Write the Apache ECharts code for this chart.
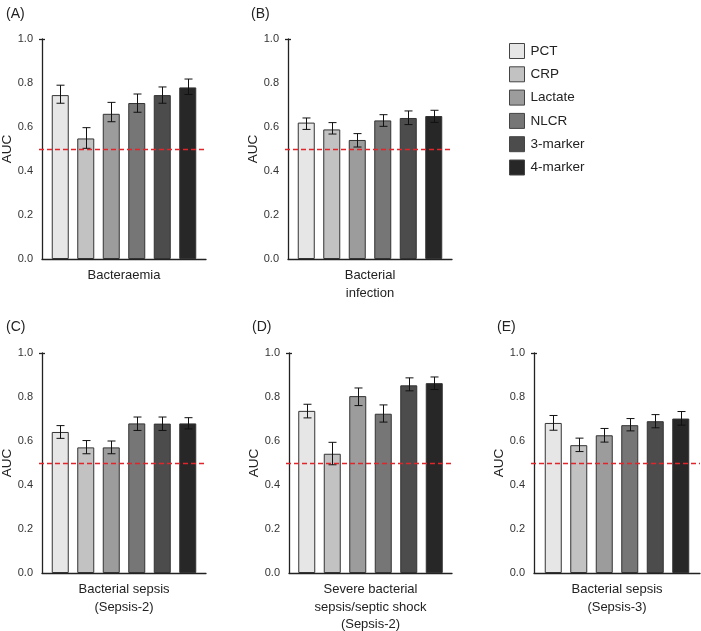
<!DOCTYPE html>
<html>
<head>
<meta charset="utf-8">
<script src="https://cdn.jsdelivr.net/npm/echarts@6/dist/echarts.min.js"></script>
<style>
html,body{margin:0;padding:0;background:#fff;}
#chart{width:701px;height:631px;}
</style>
</head>
<body>
<div id="chart"></div>
<script>
// ---------- data ----------
const markers = ['PCT', 'CRP', 'Lactate', 'NLCR', '3-marker', '4-marker'];
const panelLabels = ['(A)', '(B)', '(C)', '(D)', '(E)'];
const outcomes = [
  'Bacteraemia',
  'Bacterial\ninfection',
  'Bacterial sepsis\n(Sepsis-2)',
  'Severe bacterial\nsepsis/septic shock\n(Sepsis-2)',
  'Bacterial sepsis\n(Sepsis-3)'
];
const yTicks = [0.0, 0.2, 0.4, 0.6, 0.8, 1.0];
const refLine = 0.5;

const aucA = [0.745, 0.548, 0.660, 0.709, 0.745, 0.780];
const loA  = [0.708, 0.503, 0.624, 0.667, 0.708, 0.748];
const hiA  = [0.790, 0.597, 0.712, 0.750, 0.782, 0.818];

const aucB = [0.620, 0.589, 0.541, 0.630, 0.641, 0.650];
const loB  = [0.589, 0.568, 0.509, 0.603, 0.611, 0.621];
const hiB  = [0.641, 0.620, 0.570, 0.656, 0.673, 0.676];

const aucC = [0.641, 0.571, 0.571, 0.680, 0.679, 0.680];
const loC  = [0.612, 0.542, 0.542, 0.648, 0.648, 0.655];
const hiC  = [0.670, 0.602, 0.600, 0.709, 0.709, 0.706];

const aucD = [0.737, 0.542, 0.804, 0.724, 0.853, 0.863];
const loD  = [0.705, 0.492, 0.761, 0.686, 0.828, 0.834];
const hiD  = [0.767, 0.594, 0.841, 0.764, 0.887, 0.891];

const aucE = [0.682, 0.581, 0.626, 0.672, 0.690, 0.702];
const loE  = [0.649, 0.552, 0.595, 0.646, 0.660, 0.672];
const hiE  = [0.716, 0.613, 0.657, 0.702, 0.720, 0.734];

// ---------- styling / layout ----------
const panels = [
  {auc: aucA, lo: loA, hi: hiA},
  {auc: aucB, lo: loB, hi: hiB},
  {auc: aucC, lo: loC, hi: hiC},
  {auc: aucD, lo: loD, hi: hiD},
  {auc: aucE, lo: loE, hi: hiE}
];
const colors = ['#e6e6e6', '#c2c2c2', '#9c9c9c', '#767676', '#4c4c4c', '#272727'];
const grids = [
  {left: 42,  top: 39,  width: 164, height: 220},
  {left: 288, top: 39,  width: 164, height: 220},
  {left: 42,  top: 353, width: 164, height: 220},
  {left: 289, top: 353, width: 163, height: 220},
  {left: 534, top: 353, width: 166, height: 220}
];
const labelPos = [
  {left: 1, top: 2}, {left: 246, top: 2},
  {left: 1, top: 315}, {left: 247, top: 315}, {left: 492, top: 315}
];
const BAR_W = 17;
const GAP = 0.5;
const REF_COLOR = '#e0262b';
const FONT = '"Liberation Sans", Arial, sans-serif';

const option = {
  animation: false,
  backgroundColor: '#fff',
  textStyle: {fontFamily: FONT},
  title: panelLabels.map((t, i) => ({
    text: t, left: labelPos[i].left, top: labelPos[i].top,
    textStyle: {fontSize: 14, fontWeight: 'normal', color: '#222', fontFamily: FONT}
  })),
  legend: {
    data: markers, orient: 'vertical', left: 504, top: 38,
    itemWidth: 15, itemHeight: 15, itemGap: 7.3, icon: 'rect',
    itemStyle: {borderColor: '#444', borderWidth: 1},
    textStyle: {fontSize: 13.5, color: '#222', fontFamily: FONT, padding: [0, 0, 0, 1]},
    selectedMode: false
  },
  grid: grids.map(g => Object.assign({containLabel: false, outerBoundsMode: 'none'}, g)),
  xAxis: outcomes.map((o, i) => ({
    type: 'category', gridIndex: i, data: [o],
    axisLine: {lineStyle: {color: '#222', width: 1.3}},
    axisTick: {show: false},
    axisLabel: {fontSize: 13, color: '#222', margin: 8, lineHeight: 17.5, fontFamily: FONT},
    splitLine: {show: false}
  })),
  yAxis: outcomes.map((o, i) => ({
    type: 'value', gridIndex: i, min: yTicks[0], max: yTicks[yTicks.length - 1], interval: 0.2,
    name: 'AUC', nameLocation: 'middle', nameGap: 27,
    nameTextStyle: {fontSize: 13.5, color: '#222', fontFamily: FONT},
    axisLine: {show: true, lineStyle: {color: '#222', width: 1.3}},
    axisTick: {show: false},
    axisLabel: {fontSize: 11, color: '#333', margin: 9, formatter: v => v.toFixed(1), fontFamily: FONT},
    splitLine: {show: false}
  })),
  series: []
};

panels.forEach((p, gi) => {
  markers.forEach((m, mi) => {
    option.series.push({
      type: 'bar', name: m, xAxisIndex: gi, yAxisIndex: gi,
      data: [p.auc[mi]], barWidth: BAR_W, barGap: (GAP * 100) + '%',
      itemStyle: {color: colors[mi], borderColor: '#333', borderWidth: 1},
      emphasis: {disabled: true}
    });
  });
  option.series.push({
    type: 'custom', xAxisIndex: gi, yAxisIndex: gi, z: 5, silent: true,
    encode: {x: 0, y: [1, 2]},
    data: markers.map((m, mi) => [0, p.lo[mi], p.hi[mi]]),
    renderItem: (params, api) => {
      const lo = api.coord([api.value(0), api.value(1)]);
      const hi = api.coord([api.value(0), api.value(2)]);
      const off = (params.dataIndex - (markers.length - 1) / 2) * BAR_W * (1 + GAP);
      const x = Math.round(lo[0] + off) + 0.5;
      const st = {stroke: '#111', lineWidth: 1};
      const children = [
        {type: 'line', shape: {x1: x, y1: lo[1], x2: x, y2: hi[1]}, style: st},
        {type: 'line', shape: {x1: x - 4, y1: hi[1], x2: x + 4, y2: hi[1]}, style: st},
        {type: 'line', shape: {x1: x - 4, y1: lo[1], x2: x + 4, y2: lo[1]}, style: st}
      ];
      if (params.dataIndex === 0) {
        const cs = params.coordSys;
        const yr = Math.round(api.coord([0, refLine])[1]) + 0.5;
        children.push({
          type: 'line', z2: 10,
          shape: {x1: cs.x - 3, y1: yr, x2: cs.x + cs.width, y2: yr},
          style: {stroke: REF_COLOR, lineWidth: 1.3, lineDash: [5, 3]}
        });
        // small cap at the top of the y axis (1.0)
        const yt = Math.round(api.coord([0, yTicks[yTicks.length - 1]])[1]) + 0.5;
        children.push({
          type: 'line',
          shape: {x1: cs.x - 3, y1: yt, x2: cs.x + 3, y2: yt},
          style: {stroke: '#222', lineWidth: 1.3}
        });
      }
      return {type: 'group', children: children};
    }
  });
});

const chart = echarts.init(document.getElementById('chart'), null, {renderer: 'canvas'});
chart.setOption(option);
</script>
</body>
</html>
